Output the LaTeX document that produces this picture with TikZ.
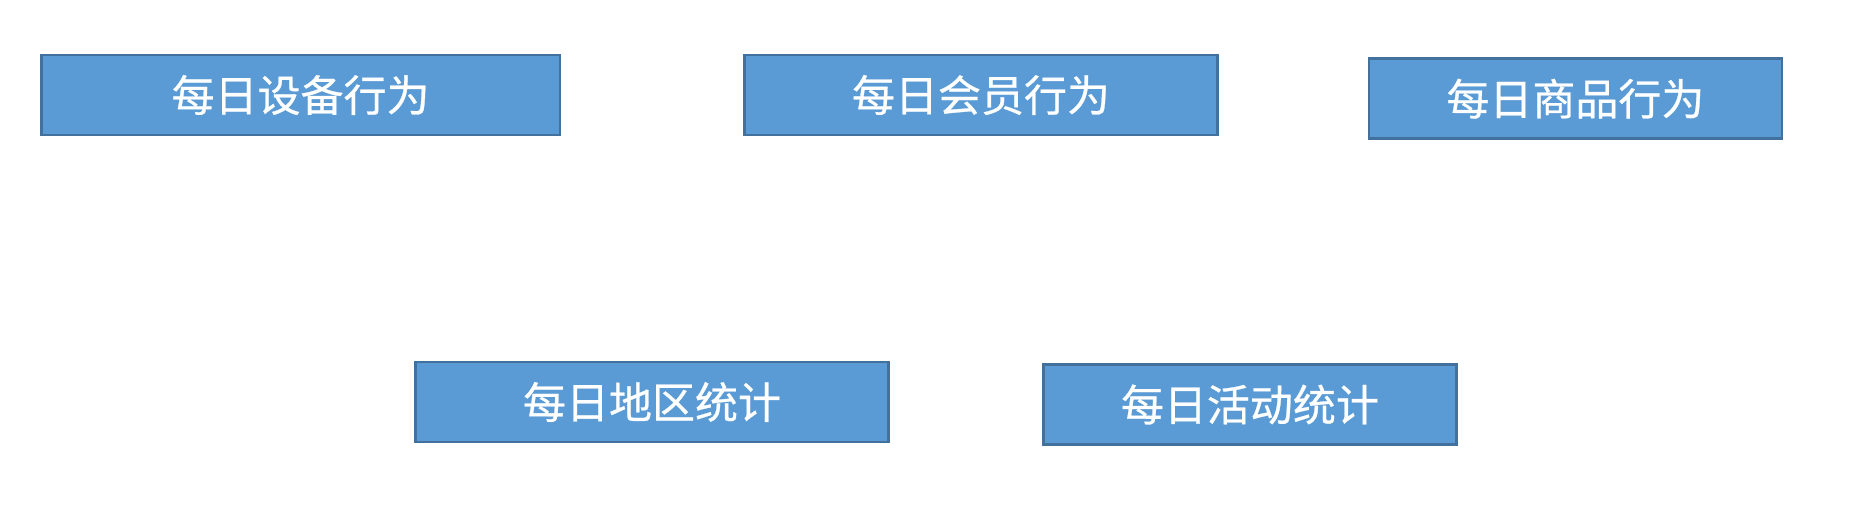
\documentclass[tikz,border=0pt]{standalone}
\usepackage{fontspec}
\newfontfamily\cjk[FakeBold=0.6]{Noto Sans CJK SC}
\definecolor{boxfill}{HTML}{5B9BD5}
\definecolor{boxline}{HTML}{41719C}
\begin{document}
\begin{tikzpicture}[x=1pt,y=-1pt,
  box/.style={draw=boxline,line width=2.5pt,fill=boxfill,text=white,
    inner sep=0pt,minimum height=80pt,font=\cjk\fontsize{43}{47}\selectfont}]
\useasboundingbox[fill=white] (0,0) rectangle (1856,516);
\node[box,minimum width=518.7pt] (a) at (300.6,95) {每日设备行为};
\node[box,minimum width=472.9pt] (b) at (981,95) {每日会员行为};
\node[box,minimum width=413pt] (c) at (1575.4,98.7) {每日商品行为};
\node[box,minimum width=472.9pt] (d) at (652,402) {每日地区统计};
\node[box,minimum width=413pt] (e) at (1249.9,404.5) {每日活动统计};
\end{tikzpicture}
\end{document}
